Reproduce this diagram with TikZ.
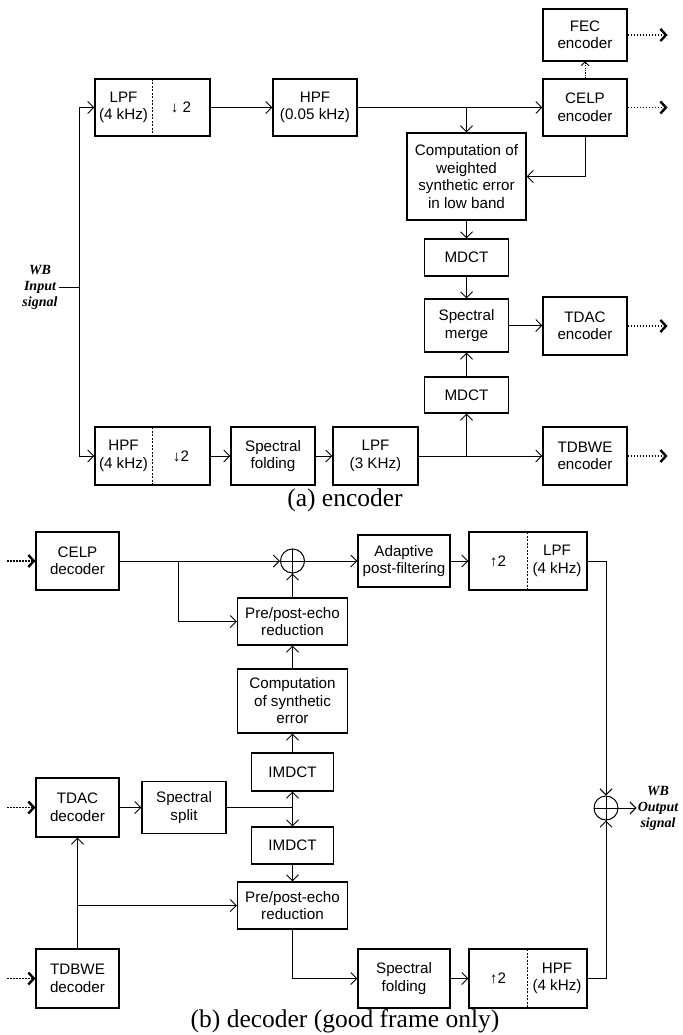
\documentclass[tikz,border=0pt]{standalone}
\usepackage{fontspec}
\setmainfont{Liberation Sans}
\newfontfamily\capfont{Liberation Serif}
\usetikzlibrary{arrows.meta,calc}
\begin{document}
\begin{tikzpicture}[x=1pt,y=-1pt,
  blk/.style={draw, line width=1.1pt, inner sep=0pt, align=center, font=\fontsize{15.2}{17.5}\selectfont},
  half/.style={inner sep=0pt, outer sep=0pt, align=center, font=\fontsize{15.2}{17.5}\selectfont},
  ln/.style={line width=1pt},
  divl/.style={line width=0.8pt, dash pattern=on 2pt off 1.5pt},
  arr/.style={line width=1pt, -{Straight Barb[length=6pt,width=12pt]}},
  outarr/.style={line width=1.6pt, dash pattern=on 1.5pt off 1.5pt, -{Straight Barb[length=5.5pt,width=12pt,line width=2.4pt]}},
  fecarr/.style={line width=0.9pt, dash pattern=on 1.2pt off 1.2pt, -{Straight Barb[length=3.5pt,width=8pt]}},
  sig/.style={inner sep=1pt, align=center, font=\fontsize{14}{16}\selectfont\capfont\bfseries\itshape},
  captxt/.style={anchor=base, inner sep=0pt, font=\fontsize{25.5}{28}\selectfont\capfont},
  sum/.style={circle, draw, line width=1pt, minimum size=24pt, inner sep=0pt}
]
\useasboundingbox (0,0) rectangle (682,1035);

% ---------------- encoder ----------------
\node[blk, minimum width=115pt, minimum height=57pt] (box1) at (152.5,107.5) {};
\node[half, minimum width=57pt, minimum height=57pt] (lpf1) at (123.5,107.5) {LPF\\(4 kHz)};
\node[half, minimum width=58pt, minimum height=57pt] (ds1) at (181,107.5) {↓ 2};
\draw[divl] (lpf1.north east) -- (lpf1.south east);

\node[blk, minimum width=84pt, minimum height=57pt] (hpf1) at (315,107.5) {HPF\\(0.05 kHz)};
\node[blk, minimum width=84pt, minimum height=57pt] (celp) at (585,107.5) {CELP\\encoder};
\node[blk, minimum width=84pt, minimum height=52pt] (fec) at (585,35) {FEC\\encoder};
\node[blk, minimum width=119pt, minimum height=87pt] (comp) at (466.5,176.5) {Computation of\\weighted\\synthetic error\\in low band};
\node[blk, minimum width=84pt, minimum height=37pt] (mdct1) at (466.5,257.5) {MDCT};
\node[blk, minimum width=84pt, minimum height=53pt] (merge) at (466.5,325.5) {Spectral\\merge};
\node[blk, minimum width=84pt, minimum height=58pt] (tdac) at (585,326) {TDAC\\encoder};
\node[blk, minimum width=84pt, minimum height=36pt] (mdct2) at (466.5,395) {MDCT};

\node[blk, minimum width=115pt, minimum height=58pt] (box2) at (152.5,456) {};
\node[half, minimum width=57pt, minimum height=58pt] (hpf2) at (123.5,456) {HPF\\(4 kHz)};
\node[half, minimum width=58pt, minimum height=58pt] (ds2) at (181,456) {↓2};
\draw[divl] (hpf2.north east) -- (hpf2.south east);

\node[blk, minimum width=84pt, minimum height=58pt] (fold1) at (273,456) {Spectral\\folding};
\node[blk, minimum width=85pt, minimum height=58pt] (lpf2) at (375.5,456) {LPF\\(3 KHz)};
\node[blk, minimum width=84pt, minimum height=58pt] (tdbwe) at (585,456) {TDBWE\\encoder};

\node[sig] (inlbl) at (40,287) {WB\\Input\\signal};
\coordinate (inj) at (79,287);
\draw[ln] (inlbl.east) -- (inj);
\draw[arr] (inj) |- (box1.west);
\draw[arr] (inj) |- (box2.west);

\draw[arr] (box1.east) -- (hpf1.west);
\draw[arr] (hpf1.east) -- (celp.west);
\draw[arr] (comp.north |- hpf1.east) -- (comp.north);
\draw[fecarr] (celp.north) -- (fec.south);
\draw[arr] (celp.south) |- (comp.east);
\draw[arr] (comp.south) -- (mdct1.north);
\draw[arr] (mdct1.south) -- (merge.north);
\draw[arr] (mdct2.north) -- (merge.south);
\draw[arr] (merge.east) -- (merge.east -| tdac.west);
\draw[arr] (box2.east) -- (fold1.west);
\draw[arr] (fold1.east) -- (lpf2.west);
\draw[arr] (lpf2.east) -- (tdbwe.west);
\draw[arr] (mdct2.south |- lpf2.east) -- (mdct2.south);

\draw[outarr] (fec.east) -- ++(40,0);
\draw[outarr] (celp.east) -- ++(40,0);
\draw[outarr] (tdac.east) -- ++(40,0);
\draw[outarr] (tdbwe.east) -- ++(40,0);

\node[captxt] (capa) at (345,506) {(a) encoder};

% ---------------- decoder ----------------
\node[blk, minimum width=83pt, minimum height=58pt] (celpd) at (77.5,561) {CELP\\decoder};
\node[sum] (add1) at (292.5,561) {};
\draw[line width=1pt] (add1.north) -- (add1.south) (add1.west) -- (add1.east);
\node[blk, minimum width=92pt, minimum height=52pt] (adapt) at (404,561) {Adaptive\\post-filtering};
\node[blk, minimum width=118pt, minimum height=58pt] (box3) at (528,561) {};
\node[half, minimum width=58pt, minimum height=58pt] (us1) at (498,561) {↑2};
\node[half, minimum width=60pt, minimum height=58pt] (lpf3) at (557,561) {LPF\\(4 kHz)};
\draw[divl] (us1.north east) -- (us1.south east);

\node[blk, minimum width=110pt, minimum height=47pt] (pp1) at (292.5,621.5) {Pre/post-echo\\reduction};
\node[blk, minimum width=110pt, minimum height=64pt] (comps) at (292.5,701) {Computation\\of synthetic\\error};
\node[blk, minimum width=82pt, minimum height=38pt] (imdct1) at (292.5,772) {IMDCT};
\node[blk, minimum width=83pt, minimum height=59pt] (tdacd) at (77.5,807.5) {TDAC\\decoder};
\node[blk, minimum width=84pt, minimum height=52pt] (split) at (184,807.5) {Spectral\\split};
\node[blk, minimum width=82pt, minimum height=37pt] (imdct2) at (292.5,845.5) {IMDCT};
\node[blk, minimum width=110pt, minimum height=47pt] (pp2) at (292.5,905.5) {Pre/post-echo\\reduction};
\node[blk, minimum width=83pt, minimum height=59pt] (tdbwed) at (77.5,978.5) {TDBWE\\decoder};
\node[blk, minimum width=92pt, minimum height=59pt] (fold2) at (404,978.5) {Spectral\\folding};
\node[blk, minimum width=118pt, minimum height=59pt] (box4) at (528,978.5) {};
\node[half, minimum width=58pt, minimum height=59pt] (us2) at (498,978.5) {↑2};
\node[half, minimum width=60pt, minimum height=59pt] (hpf3) at (557,978.5) {HPF\\(4 kHz)};
\draw[divl] (us2.north east) -- (us2.south east);

\node[sum] (add2) at (606,808) {};
\draw[line width=1pt] (add2.north) -- (add2.south) (add2.west) -- (add2.east);
\node[sig] (outlbl) at (658,808) {WB\\Output\\signal};

\draw[outarr] ($(celpd.west)+(-28,0)$) -- (celpd.west);
\draw[outarr] ($(tdacd.west)+(-28,0)$) -- (tdacd.west);
\draw[outarr] ($(tdbwed.west)+(-28,0)$) -- (tdbwed.west);

\coordinate (j1) at (178,561);
\draw[arr] (celpd.east) -- (add1.west);
\draw[arr] (j1) |- (pp1.west);
\draw[arr] (pp1.north) -- (add1.south);
\draw[arr] (comps.north) -- (pp1.south);
\draw[arr] (imdct1.north) -- (comps.south);
\draw[arr] (add1.east) -- (adapt.west);
\draw[arr] (adapt.east) -- (box3.west);
\draw[arr] (box3.east) -| (add2.north);

\draw[arr] (tdacd.east) -- (split.west);
\coordinate (j2) at (292.5,807.5);
\draw[ln] (split.east) -- (j2);
\draw[arr] (j2) -- (imdct1.south);
\draw[arr] (j2) -- (imdct2.north);
\draw[arr] (imdct2.south) -- (pp2.north);
\draw[arr] (tdbwed.north) -- (tdacd.south);
\draw[arr] (tdbwed.north |- pp2.west) -- (pp2.west);
\draw[arr] (pp2.south) |- (fold2.west);
\draw[arr] (fold2.east) -- (box4.west);
\draw[arr] (box4.east) -| (add2.south);
\draw[arr] (add2.east) -- (outlbl.west);

\node[captxt] (capb) at (345,1027) {(b) decoder (good frame only)};
\end{tikzpicture}
\end{document}
